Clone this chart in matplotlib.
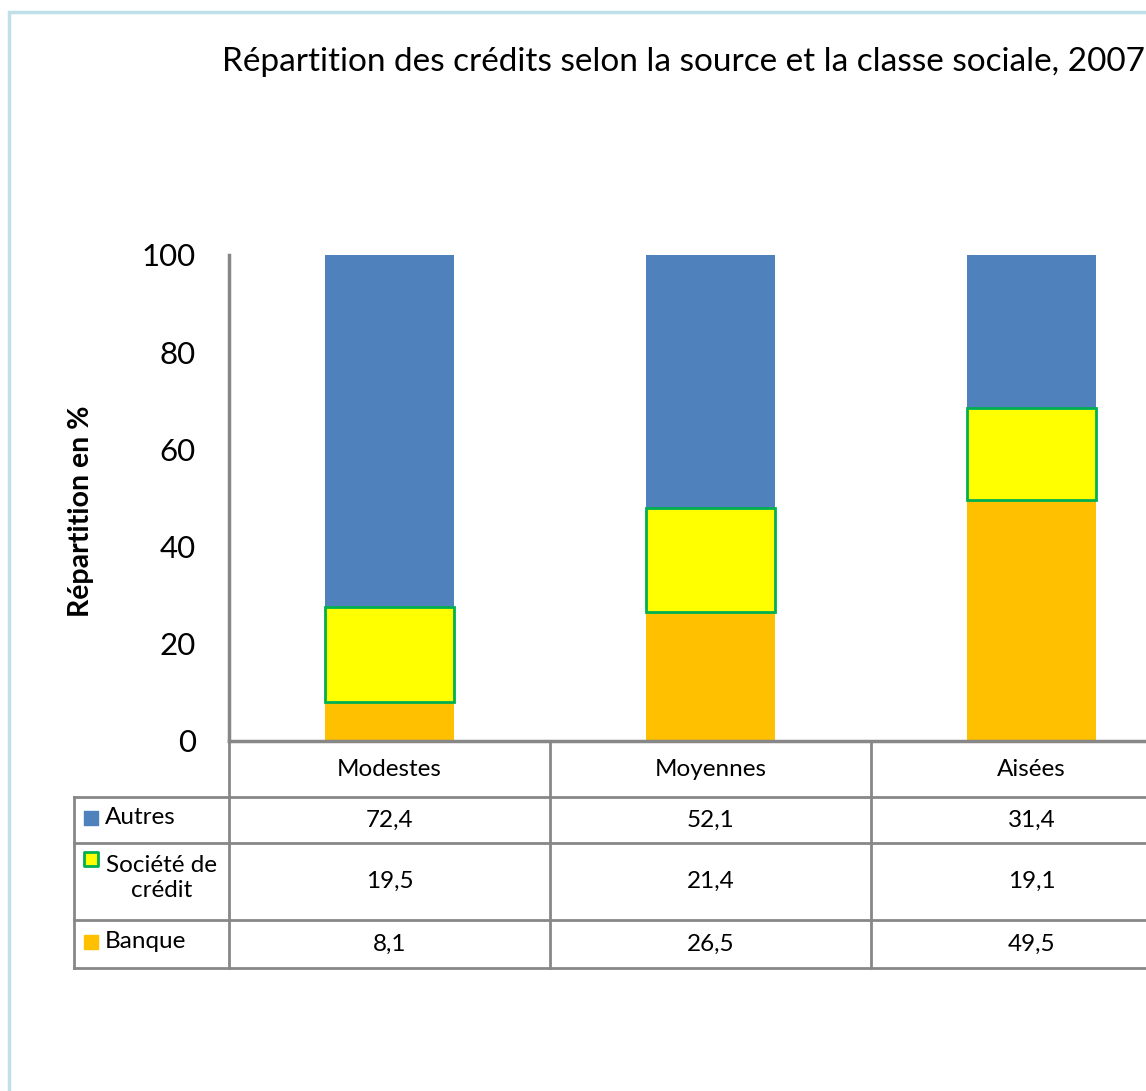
import numpy as np
import matplotlib.pyplot as plt
from matplotlib.patches import Rectangle
from matplotlib.transforms import blended_transform_factory

plt.rcParams['font.family'] = ['Lato', 'DejaVu Sans']

# data
classes = ['Modestes', 'Moyennes', 'Aisées']
series = ['Autres', 'Société de\ncrédit', 'Banque']
banque = [8.1, 26.5, 49.5]
societe = [19.5, 21.4, 19.1]
autres = [72.4, 52.1, 31.4]
yticks = [0, 20, 40, 60, 80, 100]

c_blue = '#4F81BD'
c_yellow = '#FFFF00'
c_green = '#00B050'
c_orange = '#FFC000'
c_grid = '#878787'

W, H = 1146, 1091
fig = plt.figure(figsize=(W / 100, H / 100), dpi=100)

# light blue chart border (cut off on the right / bottom)
fig.patches.append(Rectangle((9 / W, -0.1), 1.2, (H - 12) / H + 0.1,
                             transform=fig.transFigure, fill=False,
                             edgecolor='#BFE0E8', lw=2.5))

fig.text(222 / W, 1 - 62 / H, 'Répartition des crédits selon la source et la classe sociale, 2007',
         fontsize=24, va='center', ha='left')

ax = fig.add_axes([229 / W, (H - 741) / H, (1192 - 229) / W, (741 - 255) / H])
x = np.arange(len(classes))
bw = 0.4
ax.bar(x, banque, bw, color=c_orange, zorder=2)
ax.bar(x, societe, bw, bottom=banque, color=c_yellow, edgecolor=c_green, lw=2, zorder=3)
ax.bar(x, autres, bw, bottom=np.add(banque, societe), color=c_blue, zorder=2)

ax.set_xlim(-0.5, 2.5)
ax.set_ylim(0, 100)
ax.set_yticks(yticks)
ax.tick_params(axis='y', length=0, pad=24, labelsize=22.5)
ax.set_xticks([])
for s in ['top', 'right']:
    ax.spines[s].set_visible(False)
for s in ['left', 'bottom']:
    ax.spines[s].set_color(c_grid)
    ax.spines[s].set_linewidth(2.5)
ax.set_ylabel('Répartition en %', fontsize=20.5, fontweight='bold')
ax.yaxis.set_label_coords((94 - 229) / (1192 - 229), 0.473)

# data table under the axis
tr = blended_transform_factory(ax.transData, ax.transAxes)
ph = 741 - 255
def yf(py):
    return (741 - py) / ph

rows = [741, 797, 843, 920, 968]
x_left = -0.5 + (74 - 229) / 321
lkw = dict(color=c_grid, lw=2, transform=tr, clip_on=False)
# horizontal lines
for py in rows[1:]:
    ax.plot([x_left, 2.5], [yf(py), yf(py)], **lkw)
# vertical lines
ax.plot([x_left, x_left], [yf(797), yf(968)], **lkw)
for xb in [-0.5, 0.5, 1.5, 2.5]:
    ax.plot([xb, xb], [yf(741), yf(968)], **lkw)

fs = 17.5
for i, c in enumerate(classes):
    ax.text(i, yf(770), c, transform=tr, ha='center', va='center', fontsize=fs)

table_vals = [autres, societe, banque]
for r, vals in enumerate(table_vals):
    yc = yf((rows[r + 1] + rows[r + 2]) / 2)
    for i, v in enumerate(vals):
        ax.text(i, yc, f'{v:.1f}'.replace('.', ','), transform=tr,
                ha='center', va='center', fontsize=fs)

# legend keys + names
key_x = -0.5 + (91 - 229) / 321
ax.scatter([key_x], [yf(818)], s=100, marker='s', color=c_blue, transform=tr, clip_on=False)
ax.text(-0.5 + (105 - 229) / 321, yf(818), series[0], transform=tr, ha='left', va='center', fontsize=fs)
ax.scatter([key_x], [yf(859)], s=90, marker='s', color=c_yellow, edgecolor=c_green, lw=2,
           transform=tr, clip_on=False)
ax.text(-0.5 + (162 - 229) / 321, yf(878), series[1], transform=tr, ha='center', va='center',
        fontsize=fs, multialignment='center', linespacing=1.2)
ax.scatter([key_x], [yf(942)], s=100, marker='s', color=c_orange, transform=tr, clip_on=False)
ax.text(-0.5 + (105 - 229) / 321, yf(942), series[2], transform=tr, ha='left', va='center', fontsize=fs)

fig.savefig('out.png', dpi=100)
